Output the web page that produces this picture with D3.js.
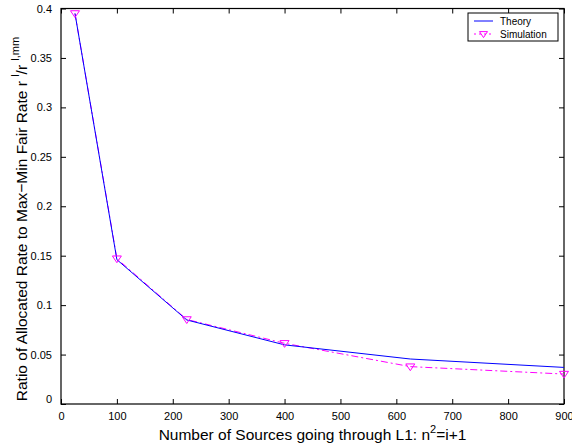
<!DOCTYPE html>
<html>
<head>
<meta charset="utf-8">
<script src="https://cdn.jsdelivr.net/npm/d3@7"></script>
<style>
  body { margin: 0; background: #fff; }
  text { font-family: "Liberation Sans", Arial, sans-serif; }
</style>
</head>
<body>
<div id="chart"></div>
<script>
// data (x = n^2 for n = 5..30)
const sources = [25, 100, 225, 400, 625, 900];
const theory = [0.395, 0.146, 0.085, 0.0598, 0.0455, 0.037];
const simulation = [0.395, 0.147, 0.0855, 0.0614, 0.0378, 0.0303];
const xTicks = [0, 100, 200, 300, 400, 500, 600, 700, 800, 900];
const yTicks = [0, 0.05, 0.1, 0.15, 0.2, 0.25, 0.3, 0.35, 0.4];

const W = 572, H = 446;
const margin = { top: 8.5, right: 8, bottom: 42, left: 61 };
const width = W - margin.left - margin.right;
const height = H - margin.top - margin.bottom;

const svg = d3.select("#chart").append("svg")
    .attr("width", W)
    .attr("height", H);

const g = svg.append("g")
    .attr("transform", `translate(${margin.left},${margin.top})`);

const x = d3.scaleLinear().domain([0, 900]).range([0, width]);
const y = d3.scaleLinear().domain([0, 0.4]).range([height, 0]);

const tickLen = 5;

// Axes (matlab style: ticks inside on all four sides)
const bottomAxis = g.append("g")
    .attr("transform", `translate(0,${height})`)
    .call(d3.axisBottom(x).tickValues(xTicks).tickSizeInner(-tickLen).tickSizeOuter(0).tickPadding(8).tickFormat(d3.format("d")));
const topAxis = g.append("g")
    .call(d3.axisTop(x).tickValues(xTicks).tickSizeInner(-tickLen).tickSizeOuter(0).tickFormat(""));
const leftAxis = g.append("g")
    .call(d3.axisLeft(y).tickValues(yTicks).tickSizeInner(-tickLen).tickSizeOuter(0).tickPadding(9).tickFormat(d => d === 0 ? "0" : d3.format("")(+d.toFixed(2))));
const rightAxis = g.append("g")
    .attr("transform", `translate(${width},0)`)
    .call(d3.axisRight(y).tickValues(yTicks).tickSizeInner(-tickLen).tickSizeOuter(0).tickFormat(""));

[bottomAxis, topAxis, leftAxis, rightAxis].forEach(a => {
    a.select(".domain").remove();
    a.selectAll("line").attr("stroke", "#000").attr("stroke-width", 1);
    a.selectAll("text").attr("fill", "#000").style("font-size", "11px");
});

// the zero on the y axis sits a little higher, like matlab
leftAxis.selectAll(".tick text").filter(d => d === 0).attr("dy", "-0.1em");

// frame
g.append("rect")
    .attr("width", width)
    .attr("height", height)
    .attr("fill", "none")
    .attr("stroke", "#000")
    .attr("stroke-width", 1.2);

// Lines
const line = d3.line()
    .x(d => x(d[0]))
    .y(d => y(d[1]));

const simPts = sources.map((s, i) => [s, simulation[i]]);
const thPts = sources.map((s, i) => [s, theory[i]]);

g.append("path")
    .attr("d", line(simPts))
    .attr("fill", "none")
    .attr("stroke", "#ff00ff")
    .attr("stroke-width", 1)
    .attr("stroke-dasharray", "7,3,2,3");

g.append("path")
    .attr("d", line(thPts))
    .attr("fill", "none")
    .attr("stroke", "#0000ff")
    .attr("stroke-width", 1);

// downward triangle markers
const tri = s => `M${-s},${-s * 0.6}L${s},${-s * 0.6}L0,${s * 0.9}Z`;
g.selectAll(".sim-mark")
    .data(simPts)
    .enter()
    .append("path")
    .attr("class", "sim-mark")
    .attr("transform", d => `translate(${x(d[0])},${y(d[1])})`)
    .attr("d", tri(4.5))
    .attr("fill", "none")
    .attr("stroke", "#ff00ff")
    .attr("stroke-width", 1);

// Axis labels
svg.append("text")
    .attr("x", margin.left + width / 2)
    .attr("y", 440)
    .attr("text-anchor", "middle")
    .style("font-size", "15.5px")
    .html('Number of Sources going through L1: n<tspan dy="-7" font-size="11px">2</tspan><tspan dy="7">=i+1</tspan>');

svg.append("text")
    .attr("transform", `translate(27,219) rotate(-90)`)
    .attr("text-anchor", "middle")
    .style("font-size", "15.5px")
    .html('Ratio of Allocated Rate to Max\u2212Min Fair Rate r <tspan dy="-8" font-size="11px">l</tspan><tspan dy="8">/r </tspan><tspan dy="-8" font-size="11px">l,mm</tspan>');

// Legend
const leg = svg.append("g").attr("transform", "translate(468,13)");
leg.append("rect")
    .attr("width", 90)
    .attr("height", 28)
    .attr("fill", "#fff")
    .attr("stroke", "#000")
    .attr("stroke-width", 1);

const legendItems = [
    { name: "Theory", color: "#0000ff", dash: null, marker: false },
    { name: "Simulation", color: "#ff00ff", dash: "2,3", marker: true }
];

legendItems.forEach((d, i) => {
    const yy = 8 + i * 13;
    leg.append("line")
        .attr("x1", 6).attr("x2", 25)
        .attr("y1", yy).attr("y2", yy)
        .attr("stroke", d.color)
        .attr("stroke-width", 1)
        .attr("stroke-dasharray", d.dash);
    if (d.marker) {
        leg.append("path")
            .attr("transform", `translate(15.5,${yy})`)
            .attr("d", tri(4))
            .attr("fill", "none")
            .attr("stroke", d.color);
    }
    leg.append("text")
        .attr("x", 32)
        .attr("y", yy + 3.5)
        .style("font-size", "10px")
        .text(d.name);
});
</script>
</body>
</html>
